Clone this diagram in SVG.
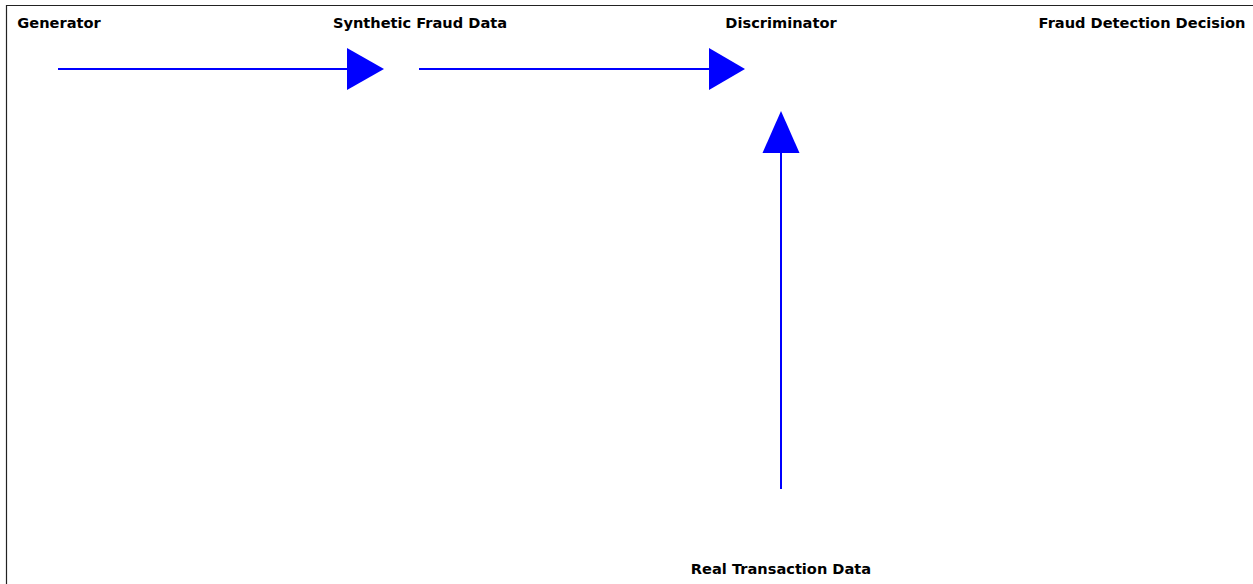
<svg xmlns="http://www.w3.org/2000/svg" width="1253" height="584" viewBox="0 0 1253 584">
<style>
.lbl{font-family:"DejaVu Sans",sans-serif;font-weight:bold;font-size:14.6px;fill:#000;text-anchor:middle;dominant-baseline:central}
.ln{stroke:#0000ff;stroke-width:2;fill:none}
.hd{fill:#0000ff;stroke:none}
</style>
<rect width="1253" height="584" fill="#fff"/>
<path d="M6.5,584 V5.5 H1253" stroke="#222" stroke-width="1.2" fill="none"/>
<g id="generator"><text class="lbl" x="59" y="22.5">Generator</text></g>
<g id="synthetic"><text class="lbl" x="420" y="22.5">Synthetic Fraud Data</text></g>
<g id="discriminator"><text class="lbl" x="781" y="22.5">Discriminator</text></g>
<g id="decision"><text class="lbl" x="1142" y="22.5">Fraud Detection Decision</text></g>
<g id="real"><text class="lbl" x="781" y="568.5">Real Transaction Data</text></g>
<g id="connectors">
<line class="ln" x1="58" y1="69" x2="350" y2="69"/>
<polygon class="hd" points="347,48 384,69 347,90"/>
<line class="ln" x1="419" y1="69" x2="712" y2="69"/>
<polygon class="hd" points="709,48 745,69 709,90"/>
<line class="ln" x1="781" y1="489" x2="781" y2="150"/>
<polygon class="hd" points="762.5,153 781,111 799.5,153"/>
</g>
</svg>
